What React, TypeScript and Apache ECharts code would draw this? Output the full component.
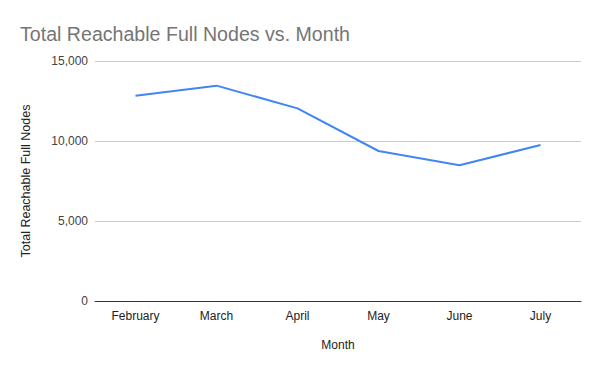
import React, { useEffect, useRef } from "react";
import * as echarts from "echarts";

const months = ["February", "March", "April", "May", "June", "July"];
const nodes = [12830, 13460, 12040, 9375, 8480, 9750];
const yTicks = { min: 0, max: 15000, interval: 5000 };

export default function App() {
  const ref = useRef<HTMLDivElement>(null);
  useEffect(() => {
    const chart = echarts.init(ref.current!, null, { renderer: "svg" });
    chart.setOption({
      animation: false,
      backgroundColor: "#ffffff",
      textStyle: { fontFamily: "Liberation Sans, Arial, sans-serif" },
      title: {
        text: "Total Reachable Full Nodes vs. Month",
        left: 15,
        top: 19,
        textStyle: { fontSize: 19.6, fontWeight: "normal", color: "#757575", fontFamily: "Liberation Sans, Arial, sans-serif" },
      },
      grid: { left: 95, right: 19, top: 61, bottom: 70, containLabel: false },
      xAxis: {
        type: "category",
        data: months,
        boundaryGap: true,
        name: "Month",
        nameLocation: "middle",
        nameGap: 38,
        nameTextStyle: { fontSize: 12, color: "#222" },
        axisLine: { lineStyle: { color: "#333", width: 1 } },
        axisTick: { show: false },
        axisLabel: { fontSize: 12, color: "#222", margin: 9 },
      },
      yAxis: {
        type: "value",
        min: yTicks.min,
        max: yTicks.max,
        interval: yTicks.interval,
        name: "Total Reachable Full Nodes",
        nameLocation: "middle",
        nameGap: 63,
        nameTextStyle: { fontSize: 12.5, color: "#222" },
        axisLine: { show: false },
        axisTick: { show: false },
        axisLabel: {
          fontSize: 12,
          color: "#444",
          margin: 7,
          formatter: (v: number) => v.toLocaleString("en-US"),
        },
        splitLine: { lineStyle: { color: "#cccccc", width: 1 } },
      },
      series: [
        {
          type: "line",
          data: nodes,
          symbol: "none",
          lineStyle: { color: "#4285F4", width: 2 },
          itemStyle: { color: "#4285F4" },
        },
      ],
    });
    return () => chart.dispose();
  }, []);
  return <div ref={ref} style={{ width: 600, height: 371, position: "absolute", left: 0, top: 0 }} />;
}
